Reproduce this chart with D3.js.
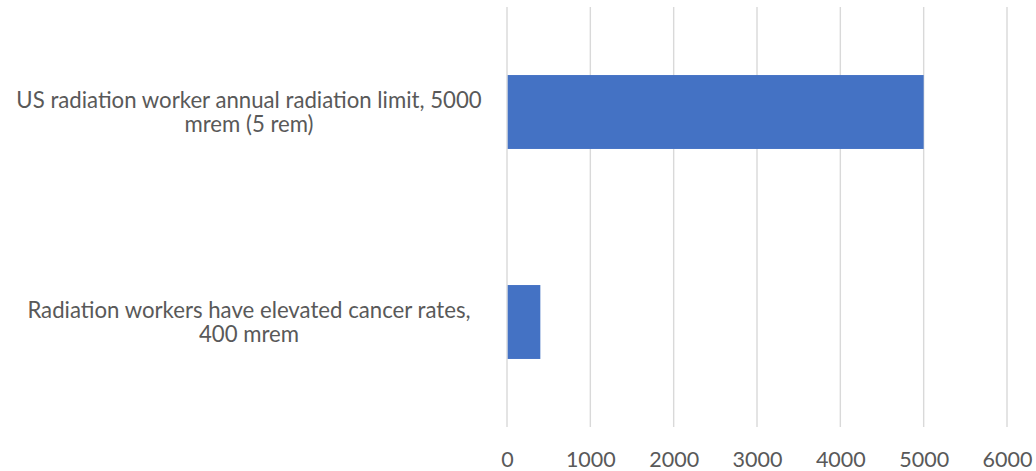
<!DOCTYPE html>
<html>
<head>
<meta charset="utf-8">
<script src="https://cdn.jsdelivr.net/npm/d3@7"></script>
<style>
  html, body { margin: 0; padding: 0; background: #fff; }
  svg { display: block; }
</style>
</head>
<body>
<svg id="chart" width="1036" height="471"></svg>
<script>
const categories = [
  "US radiation worker annual radiation limit, 5000 mrem (5 rem)",
  "Radiation workers have elevated cancer rates, 400 mrem"
];
const values = [5000, 400];
const xTicks = [0, 1000, 2000, 3000, 4000, 5000, 6000];

(function () {
const svg = d3.select("#chart");
const font = "Lato, 'Open Sans', sans-serif";
const tickFs = 21.5, catFs = 22.2;
const plotLeft = 507, plotRight = 1007, plotTop = 7, plotBottom = 427;

const x = d3.scaleLinear().domain([0, 6000]).range([plotLeft, plotRight]);
const y = d3.scaleBand().domain(categories).range([plotTop, plotBottom])
  .paddingInner(0.648).paddingOuter(0.324);

// gridlines
svg.append("g").selectAll("line").data(xTicks).join("line")
  .attr("x1", d => x(d)).attr("x2", d => x(d))
  .attr("y1", plotTop).attr("y2", plotBottom)
  .attr("stroke", "#d9d9d9").attr("stroke-width", 1.4);

// bars
svg.append("g").selectAll("rect").data(categories).join("rect")
  .attr("x", x(0) + 0.7)
  .attr("y", d => y(d))
  .attr("width", (d, i) => x(values[i]) - x(0) - 0.7)
  .attr("height", y.bandwidth())
  .attr("fill", "#4472C4");

// x axis labels
const xAxis = d3.axisBottom(x).tickValues(xTicks).tickSize(0).tickPadding(0)
  .tickFormat(d3.format("d"));
const gx = svg.append("g").attr("transform", `translate(0, ${plotBottom + 26})`).call(xAxis);
gx.select(".domain").remove();
gx.selectAll("text")
  .attr("font-family", font).attr("font-size", tickFs)
  .attr("fill", "#595959").attr("dy", "0.32em").attr("y", 7);

// category labels with wrapping
const labelCenter = 249;
const maxW = 475;
const lineH = 23.5;
const gy = svg.append("g");
categories.forEach(cat => {
  const t = gy.append("text")
    .attr("font-family", font).attr("font-size", catFs)
    .attr("fill", "#595959").attr("text-anchor", "middle");
  const words = cat.split(" ");
  let lines = [], cur = [];
  const probe = t.append("tspan");
  words.forEach(w => {
    const test = cur.concat(w).join(" ");
    probe.text(test);
    if (probe.node().getComputedTextLength() > maxW && cur.length) {
      lines.push(cur.join(" "));
      cur = [w];
    } else cur.push(w);
  });
  lines.push(cur.join(" "));
  probe.remove();
  const cy = y(cat) + y.bandwidth() / 2;
  const y0 = cy - (lines.length - 1) * lineH / 2;
  lines.forEach((ln, i) => {
    t.append("tspan").attr("x", labelCenter).attr("y", y0 + i * lineH)
      .attr("dy", "0.35em").text(ln);
  });
});
})();
</script>
</body>
</html>
